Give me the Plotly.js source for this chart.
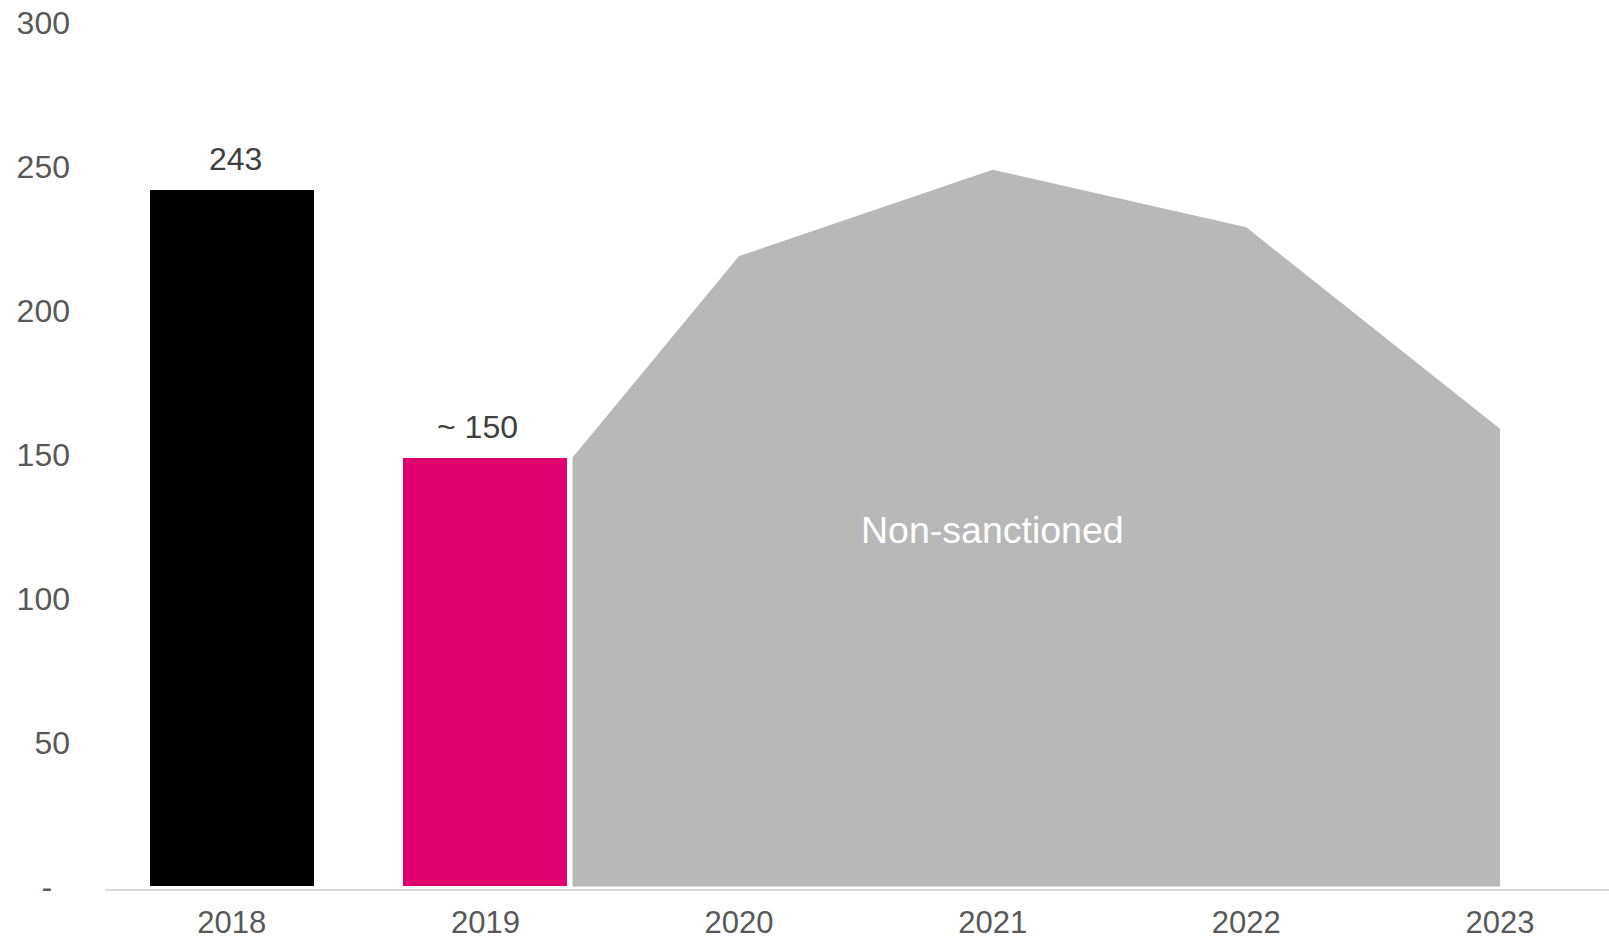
<!DOCTYPE html>
<html>
<head>
<meta charset="utf-8">
<script src="https://cdn.plot.ly/plotly-3.0.1.min.js"></script>
<style>html,body{margin:0;padding:0;background:#fff;}#chart{width:1609px;height:940px;}</style>
</head>
<body>
<div id="chart"></div>
<script>
// ---- data ----
const years = ["2018", "2019", "2020", "2021", "2022", "2023"];
const actualYears = ["2018", "2019"];
const actualValues = [242, 149];
const actualLabels = ["243", "~\u00a0150"];
const actualColors = ["#000000", "#E10070"];
const forecastYears = ["2019", "2020", "2021", "2022", "2023"];
const forecastValues = [149, 219, 249, 229, 159];
const forecastLabel = "Non-sanctioned";
const yTickVals = [0, 50, 100, 150, 200, 250, 300];
const yTickText = ["-\u00a0\u00a0", "50", "100", "150", "200", "250", "300"];

// ---- build ----
const idx = y => years.indexOf(y);
const barWidth = 0.647;
const gap = 0.02;
const fx = forecastYears.map((y, i) => i === 0 ? idx(y) + barWidth / 2 + gap : idx(y));

const traces = [
  {
    type: "scatter",
    x: fx,
    y: forecastValues,
    mode: "lines",
    fill: "tozeroy",
    fillcolor: "#B8B8B8",
    line: {width: 0, color: "#B8B8B8"},
    hoverinfo: "skip",
    showlegend: false
  },
  {
    type: "bar",
    x: actualYears.map(idx),
    y: actualValues,
    width: barWidth,
    marker: {color: actualColors, line: {width: 0}},
    showlegend: false
  }
];

const font = "Liberation Sans, Arial, sans-serif";
const annotations = actualYears.map((y, i) => ({
  x: idx(y), y: actualValues[i], xref: "x", yref: "y",
  text: actualLabels[i], showarrow: false,
  xanchor: "center", yanchor: "middle",
  xshift: i === 0 ? 4 : -8, yshift: 31,
  font: {family: font, size: 32, color: "#404040"}
}));
annotations.push({
  x: idx("2021"), y: 124, xref: "x", yref: "y",
  text: forecastLabel, showarrow: false,
  xanchor: "center", yanchor: "middle",
  font: {family: font, size: 37.5, color: "#FFFFFF"}
});

const layout = {
  width: 1609, height: 940,
  margin: {l: 105, r: 0, t: 23, b: 51},
  paper_bgcolor: "#ffffff", plot_bgcolor: "#ffffff",
  font: {family: font, color: "#595959", size: 32},
  xaxis: {
    range: [-0.5, 5.43],
    tickvals: years.map(idx), ticktext: years,
    showgrid: false, zeroline: false,
    showline: true, linecolor: "#D9D9D9", linewidth: 2,
    ticks: "", ticklabelstandoff: 5,
    tickfont: {family: font, size: 31, color: "#595959"},
    fixedrange: true
  },
  yaxis: {
    range: [-0.9, 300],
    tickvals: yTickVals, ticktext: yTickText,
    showgrid: false, zeroline: false, showline: false,
    ticks: "", ticklabelstandoff: 34,
    tickfont: {family: font, size: 32, color: "#595959"},
    fixedrange: true
  },
  bargap: 0,
  annotations: annotations,
  showlegend: false
};

Plotly.newPlot("chart", traces, layout, {displayModeBar: false, staticPlot: true});
</script>
</body>
</html>
